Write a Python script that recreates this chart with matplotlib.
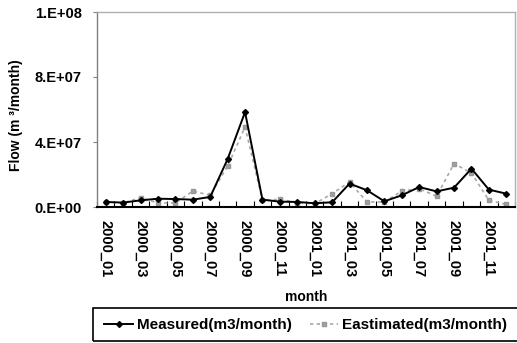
import matplotlib
matplotlib.use("Agg")
import matplotlib.pyplot as plt
from matplotlib.patches import Rectangle
import numpy as np

plt.rcParams['font.family'] = ['Liberation Sans', 'DejaVu Sans']
plt.rcParams['font.weight'] = 'bold'

months = ['2000_01', '2000_02', '2000_03', '2000_04', '2000_05', '2000_06',
          '2000_07', '2000_08', '2000_09', '2000_10', '2000_11', '2000_12',
          '2001_01', '2001_02', '2001_03', '2001_04', '2001_05', '2001_06',
          '2001_07', '2001_08', '2001_09', '2001_10', '2001_11', '2001_12']

measured = [3.1e6, 2.7e6, 4.1e6, 5.1e6, 4.9e6, 4.5e6,
            6.2e6, 29.5e6, 58.4e6, 4.5e6, 3.3e6, 3.1e6,
            2.3e6, 2.9e6, 14.4e6, 10.3e6, 3.5e6, 7.2e6,
            12.3e6, 9.6e6, 11.9e6, 23.6e6, 10.7e6, 8.2e6]

estimated = [3.1e6, 2.5e6, 5.7e6, 2.5e6, 2.5e6, 9.8e6,
             7.2e6, 25.2e6, 49.2e6, 4.1e6, 4.7e6, 2.7e6,
             2.0e6, 8.2e6, 15.4e6, 3.1e6, 3.1e6, 9.8e6,
             11.3e6, 6.6e6, 26.7e6, 20.9e6, 4.1e6, 1.6e6]

y_ticks = [0, 4e7, 8e7, 1.2e8]
y_tick_labels = ['0.E+00', '4.E+07', '8.E+07', '1.E+08']

W, H = 517, 343
fig = plt.figure(figsize=(W / 100, H / 100), dpi=100)
ax = fig.add_axes([97 / W, 1 - 207 / H, (515 - 97) / W, (207 - 12) / H])

x = np.arange(len(months))
ax.plot(x, estimated, color='#a8a8a8', linestyle=(0, (2, 2)), linewidth=1.2,
        marker='s', markersize=3.5, markerfacecolor='#a0a0a0',
        markeredgecolor='#989898', label='Eastimated(m3/month)', zorder=2)
ax.plot(x, measured, color='black', linewidth=1.4, marker='D',
        markersize=3, label='Measured(m3/month)', zorder=3)

ax.set_xlim(-0.5, len(months) - 0.5)
ax.set_ylim(0, 1.2e8)
ax.set_yticks(y_ticks)
ax.set_yticklabels(y_tick_labels, fontsize=10.5, fontweight='bold')
ax.set_xticks(x[::2])
ax.set_xticklabels(months[::2], rotation=-90, fontsize=10.5, fontweight='bold')
ax.set_xticks(np.arange(-0.5, len(months)), minor=True)
ax.tick_params(axis='x', which='major', length=0, pad=9.5)
ax.tick_params(axis='x', which='minor', direction='in', length=4, width=0.8)
ax.tick_params(axis='y', direction='out', length=3, width=0.8, pad=8,
               color='#808080')

for side in ('top', 'right'):
    ax.spines[side].set_color('#b0b0b0')
    ax.spines[side].set_linewidth(1.0)
ax.spines['left'].set_color('#808080')
ax.spines['left'].set_linewidth(1.0)
ax.spines['bottom'].set_color('black')
ax.spines['bottom'].set_linewidth(1.5)

fig.text(16 / W, 1 - 115 / H, 'Flow (m ³/month)', rotation=90, fontsize=10,
         fontweight='bold', ha='center', va='center')
fig.text(306 / W, 1 - 297 / H, 'month', fontsize=10, fontweight='bold',
         ha='center', va='center')

# legend frame runs off the right edge of the figure
fig.patches.append(Rectangle((93 / W, 1 - 341 / H), (540 - 93) / W, 33 / H,
                             transform=fig.transFigure, fill=False,
                             edgecolor='black', linewidth=1.2))

handles, labels = ax.get_legend_handles_labels()
leg = fig.legend(handles[::-1], labels[::-1], ncol=2, loc='center left',
                 bbox_to_anchor=(93 / W, 1 - 325 / H), fontsize=11,
                 frameon=False, handlelength=1.85, handletextpad=0.25,
                 columnspacing=1.2, borderpad=0.0, borderaxespad=0.75)
for t in leg.get_texts():
    t.set_fontweight('bold')

fig.savefig('out.png', dpi=100)
